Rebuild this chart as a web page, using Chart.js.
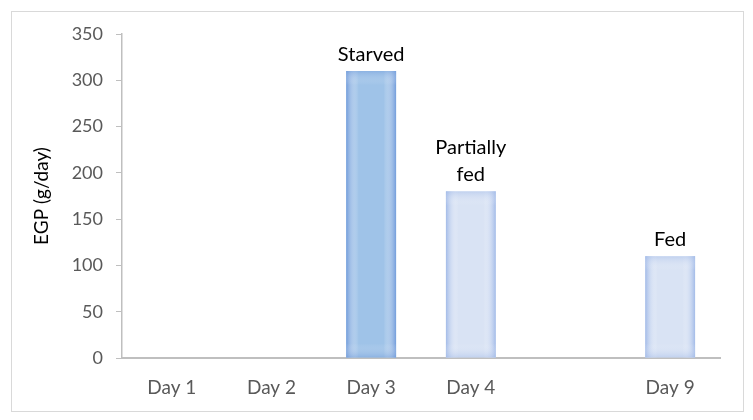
<!DOCTYPE html>
<html>
<head>
<meta charset="utf-8">
<script src="https://cdn.jsdelivr.net/npm/chart.js@4/dist/chart.umd.min.js"></script>
<style>
  html, body { margin: 0; padding: 0; background: #fff; }
  #wrap { width: 753px; height: 420px; position: relative; }
</style>
</head>
<body>
<div id="wrap"><canvas id="egpChart"></canvas></div>
<script>
const days = ["Day 1", "Day 2", "Day 3", "Day 4", "", "Day 9"];
const egp = [null, null, 310, 180, null, 110];
const notes = ["", "", "Starved", "Partially\nfed", "", "Fed"];
const yTicks = [0, 50, 100, 150, 200, 250, 300, 350];

const darkBar = { fill: "#9fc3e8", edge: "#739ddb" };
const lightBar = { fill: "#d9e3f4", edge: "#a3bbe8" };
const barStyle = [lightBar, lightBar, darkBar, lightBar, lightBar, lightBar];

const FONT = "Lato, 'Open Sans', sans-serif";

// soft inner shading on each bar, like the office chart style
const barGlow = {
    id: "barGlow",
    afterDatasetsDraw(chart) {
        const ctx = chart.ctx;
        chart.getDatasetMeta(0).data.forEach((bar, i) => {
            if (egp[i] == null) return;
            const { x, y, base, width } = bar.getProps(["x", "y", "base", "width"], true);
            const left = x - width / 2, h = base - y;
            const edge = barStyle[i].edge;
            let g = ctx.createLinearGradient(left, 0, left + width, 0);
            g.addColorStop(0, edge);
            g.addColorStop(0.25, "rgba(255,255,255,0)");
            g.addColorStop(0.75, "rgba(255,255,255,0)");
            g.addColorStop(1, edge);
            ctx.save();
            ctx.fillStyle = g;
            ctx.fillRect(left, y, width, h);
            g = ctx.createLinearGradient(0, y, 0, base);
            const fr = Math.min(14 / h, 0.3);
            g.addColorStop(0, edge);
            g.addColorStop(fr, "rgba(255,255,255,0)");
            g.addColorStop(1 - fr, "rgba(255,255,255,0)");
            g.addColorStop(1, edge);
            ctx.globalAlpha = 0.45;
            ctx.fillStyle = g;
            ctx.fillRect(left, y, width, h);
            ctx.restore();
        });
    }
};

// text over bars and frame around the whole chart
const notesAndFrame = {
    id: "notesAndFrame",
    afterDraw(chart) {
        const ctx = chart.ctx;
        ctx.save();
        ctx.strokeStyle = "#d9d9d9";
        ctx.lineWidth = 1;
        ctx.strokeRect(11.5, 11.5, 732, 400);
        ctx.fillStyle = "#000";
        ctx.font = "20px " + FONT;
        ctx.textAlign = "center";
        ctx.textBaseline = "alphabetic";
        chart.getDatasetMeta(0).data.forEach((bar, i) => {
            if (!notes[i]) return;
            const lines = notes[i].split("\n");
            lines.forEach((line, k) => {
                const fromBottom = lines.length - 1 - k;
                ctx.fillText(line, bar.x, bar.y - 10 - fromBottom * 27);
            });
        });
        ctx.restore();
    }
};

new Chart(document.getElementById("egpChart"), {
    type: "bar",
    data: {
        labels: days,
        datasets: [{
            label: "EGP",
            data: egp,
            backgroundColor: barStyle.map(s => s.fill),
            borderWidth: 0,
            barPercentage: 0.5,
            categoryPercentage: 1.0
        }]
    },
    options: {
        responsive: true,
        maintainAspectRatio: false,
        animation: false,
        layout: { padding: { left: 20, right: 33, top: 34, bottom: 0 } },
        plugins: {
            legend: { display: false },
            tooltip: { enabled: false }
        },
        scales: {
            x: {
                grid: { display: false, drawTicks: false },
                border: { color: "#bfbfbf", width: 2 },
                ticks: { color: "#595959", font: { family: FONT, size: 19 }, padding: 18 },
                afterFit: s => { s.height = 62; }
            },
            y: {
                min: 0,
                max: 350,
                afterBuildTicks: s => { s.ticks = yTicks.map(v => ({ value: v })); },
                grid: { drawOnChartArea: false, drawTicks: true, tickLength: 6, color: "#bfbfbf" },
                border: { color: "#bfbfbf", width: 1.5 },
                ticks: { color: "#595959", font: { family: FONT, size: 18 }, padding: 13 },
                title: {
                    display: true,
                    text: "EGP (g/day)",
                    color: "#000",
                    font: { family: FONT, size: 19 },
                    padding: { top: 10, bottom: 0 }
                },
                afterFit: s => { s.width = 102; }
            }
        }
    },
    plugins: [barGlow, notesAndFrame]
});
</script>
</body>
</html>
